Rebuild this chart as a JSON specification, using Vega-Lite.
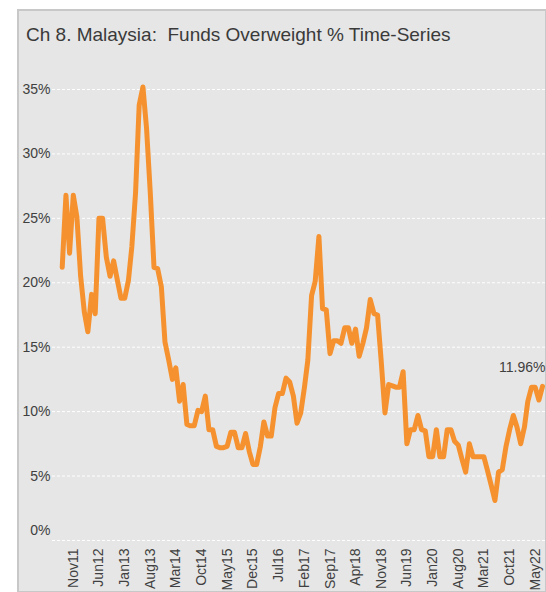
{
  "$schema": "https://vega.github.io/schema/vega-lite/v6.json",
  "width": 528,
  "height": 582,
  "autosize": {"type": "none"},
  "padding": {"left": 18, "top": 10, "right": 0, "bottom": 0},
  "background": "white",
  "view": {"fill": "#e6e6e6", "stroke": "#c8c8c8", "strokeWidth": 2},
  "title": {
    "text": "Ch 8. Malaysia:\u00a0 Funds Overweight % Time-Series",
    "anchor": "start",
    "frame": "group",
    "orient": "top",
    "offset": -50,
    "baseline": "alphabetic",
    "dx": 8,
    "font": "Liberation Sans",
    "fontSize": 19,
    "fontWeight": "normal",
    "color": "#3a3a3a"
  },
  "config": {
    "font": "Liberation Sans",
    "axisX": {
      "format": "%b%y",
      "formatType": "utc",
      "labelAngle": 270,
      "labelAlign": "right",
      "labelBaseline": "middle",
      "offset": -51,
      "grid": false,
      "domain": false,
      "ticks": false,
      "labelPadding": 7,
      "labelOverlap": false,
      "labelFlush": false,
      "labelBound": false,
      "labelFont": "Liberation Sans",
      "labelFontSize": 14,
      "labelColor": "#404040",
      "title": null
    },
    "axisY": {
      "offset": -34,
      "grid": false,
      "domain": false,
      "ticks": false,
      "labelPadding": 2,
      "labelFont": "Liberation Sans",
      "labelFontSize": 14,
      "labelColor": "#404040",
      "title": null
    }
  },
  "datasets": {
    "series": [
      {"d": "2011-08-01", "v": 21.2},
      {"d": "2011-09-01", "v": 26.8},
      {"d": "2011-10-01", "v": 22.3},
      {"d": "2011-11-01", "v": 26.8},
      {"d": "2011-12-01", "v": 25.1},
      {"d": "2012-01-01", "v": 20.5},
      {"d": "2012-02-01", "v": 17.7},
      {"d": "2012-03-01", "v": 16.2},
      {"d": "2012-04-01", "v": 19.1},
      {"d": "2012-05-01", "v": 17.6},
      {"d": "2012-06-01", "v": 25.0},
      {"d": "2012-07-01", "v": 25.0},
      {"d": "2012-08-01", "v": 22.0},
      {"d": "2012-09-01", "v": 20.5},
      {"d": "2012-10-01", "v": 21.7},
      {"d": "2012-11-01", "v": 20.2},
      {"d": "2012-12-01", "v": 18.8},
      {"d": "2013-01-01", "v": 18.8},
      {"d": "2013-02-01", "v": 20.2},
      {"d": "2013-03-01", "v": 22.8},
      {"d": "2013-04-01", "v": 27.0},
      {"d": "2013-05-01", "v": 33.8},
      {"d": "2013-06-01", "v": 35.2},
      {"d": "2013-07-01", "v": 32.0},
      {"d": "2013-08-01", "v": 27.0},
      {"d": "2013-09-01", "v": 21.2},
      {"d": "2013-10-01", "v": 21.1},
      {"d": "2013-11-01", "v": 19.7},
      {"d": "2013-12-01", "v": 15.4},
      {"d": "2014-01-01", "v": 14.0},
      {"d": "2014-02-01", "v": 12.5},
      {"d": "2014-03-01", "v": 13.4},
      {"d": "2014-04-01", "v": 10.8},
      {"d": "2014-05-01", "v": 12.1},
      {"d": "2014-06-01", "v": 9.0},
      {"d": "2014-07-01", "v": 8.9},
      {"d": "2014-08-01", "v": 8.9},
      {"d": "2014-09-01", "v": 10.1},
      {"d": "2014-10-01", "v": 10.0},
      {"d": "2014-11-01", "v": 11.2},
      {"d": "2014-12-01", "v": 8.6},
      {"d": "2015-01-01", "v": 8.6},
      {"d": "2015-02-01", "v": 7.3},
      {"d": "2015-03-01", "v": 7.2},
      {"d": "2015-04-01", "v": 7.2},
      {"d": "2015-05-01", "v": 7.3},
      {"d": "2015-06-01", "v": 8.4},
      {"d": "2015-07-01", "v": 8.4},
      {"d": "2015-08-01", "v": 7.2},
      {"d": "2015-09-01", "v": 7.2},
      {"d": "2015-10-01", "v": 8.3},
      {"d": "2015-11-01", "v": 6.9},
      {"d": "2015-12-01", "v": 5.9},
      {"d": "2016-01-01", "v": 5.9},
      {"d": "2016-02-01", "v": 7.3},
      {"d": "2016-03-01", "v": 9.2},
      {"d": "2016-04-01", "v": 8.1},
      {"d": "2016-05-01", "v": 8.1},
      {"d": "2016-06-01", "v": 10.3},
      {"d": "2016-07-01", "v": 11.4},
      {"d": "2016-08-01", "v": 11.4},
      {"d": "2016-09-01", "v": 12.6},
      {"d": "2016-10-01", "v": 12.3},
      {"d": "2016-11-01", "v": 11.2},
      {"d": "2016-12-01", "v": 9.1},
      {"d": "2017-01-01", "v": 9.9},
      {"d": "2017-02-01", "v": 11.9},
      {"d": "2017-03-01", "v": 14.0},
      {"d": "2017-04-01", "v": 19.0},
      {"d": "2017-05-01", "v": 20.1},
      {"d": "2017-06-01", "v": 23.6},
      {"d": "2017-07-01", "v": 18.0},
      {"d": "2017-08-01", "v": 17.9},
      {"d": "2017-09-01", "v": 14.5},
      {"d": "2017-10-01", "v": 15.5},
      {"d": "2017-11-01", "v": 15.5},
      {"d": "2017-12-01", "v": 15.3},
      {"d": "2018-01-01", "v": 16.5},
      {"d": "2018-02-01", "v": 16.5},
      {"d": "2018-03-01", "v": 15.3},
      {"d": "2018-04-01", "v": 16.4},
      {"d": "2018-05-01", "v": 14.3},
      {"d": "2018-06-01", "v": 15.3},
      {"d": "2018-07-01", "v": 16.5},
      {"d": "2018-08-01", "v": 18.7},
      {"d": "2018-09-01", "v": 17.6},
      {"d": "2018-10-01", "v": 17.5},
      {"d": "2018-11-01", "v": 13.8},
      {"d": "2018-12-01", "v": 9.9},
      {"d": "2019-01-01", "v": 12.1},
      {"d": "2019-02-01", "v": 12.0},
      {"d": "2019-03-01", "v": 11.9},
      {"d": "2019-04-01", "v": 11.9},
      {"d": "2019-05-01", "v": 13.1},
      {"d": "2019-06-01", "v": 7.5},
      {"d": "2019-07-01", "v": 8.6},
      {"d": "2019-08-01", "v": 8.6},
      {"d": "2019-09-01", "v": 9.7},
      {"d": "2019-10-01", "v": 8.6},
      {"d": "2019-11-01", "v": 8.5},
      {"d": "2019-12-01", "v": 6.5},
      {"d": "2020-01-01", "v": 6.5},
      {"d": "2020-02-01", "v": 8.6},
      {"d": "2020-03-01", "v": 6.5},
      {"d": "2020-04-01", "v": 6.5},
      {"d": "2020-05-01", "v": 8.6},
      {"d": "2020-06-01", "v": 8.6},
      {"d": "2020-07-01", "v": 7.7},
      {"d": "2020-08-01", "v": 7.4},
      {"d": "2020-09-01", "v": 6.3},
      {"d": "2020-10-01", "v": 5.3},
      {"d": "2020-11-01", "v": 7.5},
      {"d": "2020-12-01", "v": 6.5},
      {"d": "2021-01-01", "v": 6.5},
      {"d": "2021-02-01", "v": 6.5},
      {"d": "2021-03-01", "v": 6.5},
      {"d": "2021-04-01", "v": 5.4},
      {"d": "2021-05-01", "v": 4.3},
      {"d": "2021-06-01", "v": 3.1},
      {"d": "2021-07-01", "v": 5.3},
      {"d": "2021-08-01", "v": 5.5},
      {"d": "2021-09-01", "v": 7.3},
      {"d": "2021-10-01", "v": 8.6},
      {"d": "2021-11-01", "v": 9.7},
      {"d": "2021-12-01", "v": 8.8},
      {"d": "2022-01-01", "v": 7.5},
      {"d": "2022-02-01", "v": 8.8},
      {"d": "2022-03-01", "v": 10.8},
      {"d": "2022-04-01", "v": 11.9},
      {"d": "2022-05-01", "v": 11.9},
      {"d": "2022-06-01", "v": 10.9},
      {"d": "2022-07-01", "v": 11.96}
    ],
    "grid": [
      {"v": 0}, {"v": 5}, {"v": 10}, {"v": 15}, {"v": 20}, {"v": 25}, {"v": 30}, {"v": 35}
    ],
    "last": [
      {"d": "2022-07-01", "v": 11.96, "label": "11.96%"}
    ]
  },
  "layer": [
    {
      "data": {"name": "grid"},
      "mark": {"type": "rule", "stroke": "#ffffff", "strokeWidth": 1, "strokeDash": [3, 2]},
      "encoding": {
        "y": {
          "field": "v",
          "type": "quantitative",
          "scale": {"domain": [-4, 41.17], "nice": false, "zero": false},
          "axis": {
            "values": [0, 5, 10, 15, 20, 25, 30, 35],
            "tickCount": 20,
            "labelExpr": "datum.value + '%'",
            "labelOffset": {"condition": {"test": "datum.value === 0", "value": -10}, "value": 0}
          }
        },
        "x": {
          "datum": {"year": 2011, "month": 5, "date": 8, "utc": true},
          "type": "temporal",
          "scale": {"type": "utc", "domain": [{"year": 2010, "month": 7, "date": 30, "utc": true}, {"year": 2022, "month": 7, "date": 30, "utc": true}]}
        },
        "x2": {"datum": {"year": 2022, "month": 7, "date": 30, "utc": true}}
      }
    },
    {
      "data": {"name": "series"},
      "mark": {"type": "line", "stroke": "#F5922F", "strokeWidth": 5, "strokeJoin": "round", "strokeCap": "round"},
      "encoding": {
        "x": {
          "field": "d",
          "type": "temporal",
          "scale": {"type": "utc", "domain": [{"year": 2010, "month": 7, "date": 30, "utc": true}, {"year": 2022, "month": 7, "date": 30, "utc": true}]},
          "axis": {
            "values": [
              {"year": 2011, "month": 11, "date": 1, "utc": true},
              {"year": 2012, "month": 6, "date": 1, "utc": true},
              {"year": 2013, "month": 1, "date": 1, "utc": true},
              {"year": 2013, "month": 8, "date": 1, "utc": true},
              {"year": 2014, "month": 3, "date": 1, "utc": true},
              {"year": 2014, "month": 10, "date": 1, "utc": true},
              {"year": 2015, "month": 5, "date": 1, "utc": true},
              {"year": 2015, "month": 12, "date": 1, "utc": true},
              {"year": 2016, "month": 7, "date": 1, "utc": true},
              {"year": 2017, "month": 2, "date": 1, "utc": true},
              {"year": 2017, "month": 9, "date": 1, "utc": true},
              {"year": 2018, "month": 4, "date": 1, "utc": true},
              {"year": 2018, "month": 11, "date": 1, "utc": true},
              {"year": 2019, "month": 6, "date": 1, "utc": true},
              {"year": 2020, "month": 1, "date": 1, "utc": true},
              {"year": 2020, "month": 8, "date": 1, "utc": true},
              {"year": 2021, "month": 3, "date": 1, "utc": true},
              {"year": 2021, "month": 10, "date": 1, "utc": true},
              {"year": 2022, "month": 5, "date": 1, "utc": true}
            ],
            "tickCount": 60,
            "format": "%b%y",
            "formatType": "utc",
            "labelOverlap": false
          }
        },
        "y": {
          "field": "v",
          "type": "quantitative",
          "scale": {"domain": [-4, 41.17], "nice": false, "zero": false},
          "axis": {
            "values": [0, 5, 10, 15, 20, 25, 30, 35],
            "tickCount": 20,
            "labelExpr": "datum.value + '%'",
            "labelOffset": {"condition": {"test": "datum.value === 0", "value": -10}, "value": 0}
          }
        }
      }
    },
    {
      "data": {"name": "last"},
      "mark": {"type": "text", "align": "right", "baseline": "middle", "dx": 3, "dy": -18, "font": "Liberation Sans", "fontSize": 14, "color": "#404040"},
      "encoding": {
        "x": {"field": "d", "type": "temporal", "scale": {"type": "utc", "domain": [{"year": 2010, "month": 7, "date": 30, "utc": true}, {"year": 2022, "month": 7, "date": 30, "utc": true}]}},
        "y": {"field": "v", "type": "quantitative", "scale": {"domain": [-4, 41.17], "nice": false, "zero": false}},
        "text": {"field": "label"}
      }
    }
  ]
}
